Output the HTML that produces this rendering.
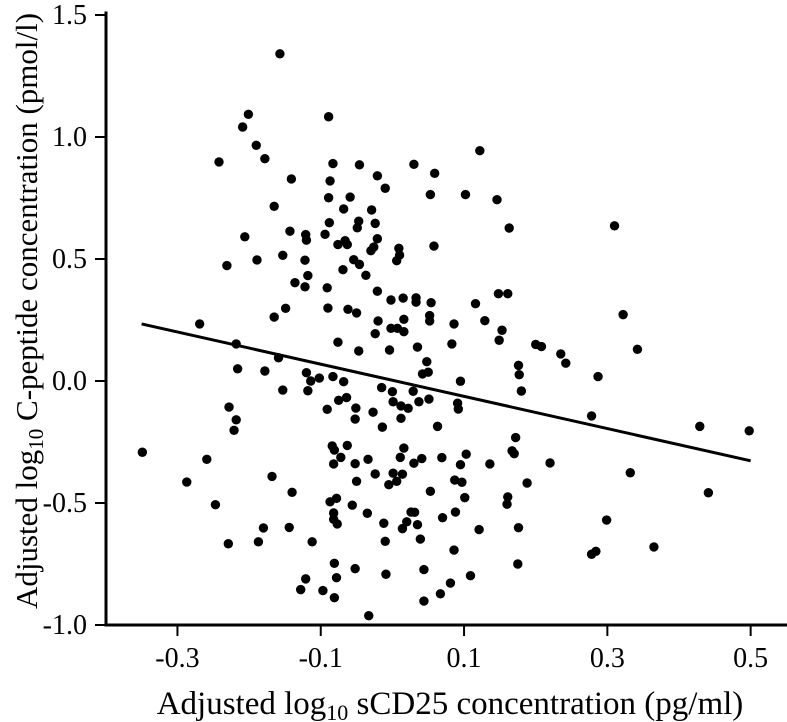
<!DOCTYPE html>
<html>
<head>
<meta charset="utf-8">
<style>
  html,body{margin:0;padding:0;background:#fff;}
  svg{display:block;}
  text{font-family:"Liberation Serif","DejaVu Serif",serif;fill:#000;}
</style>
</head>
<body>
<svg id="chart" width="787" height="722" viewBox="0 0 787 722" xmlns="http://www.w3.org/2000/svg">
  <g id="axes"></g>
  <g id="points"></g>
  <g id="fit"></g>
  <text transform="translate(37,311) rotate(-90)" text-anchor="middle" font-size="31">Adjusted log<tspan font-size="21" dy="6">10</tspan><tspan dy="-6"> C-peptide concentration (pmol/l)</tspan></text>
  <text x="450" y="714" text-anchor="middle" font-size="33">Adjusted log<tspan font-size="22" dy="6">10</tspan><tspan dy="-6"> sCD25 concentration (pg/ml)</tspan></text>
</svg>
<script>
const xTicks = [-0.3, -0.1, 0.1, 0.3, 0.5];
const xTickLabels = ["-0.3", "-0.1", "0.1", "0.3", "0.5"];
const yTicks = [1.5, 1.0, 0.5, 0.0, -0.5, -1.0];
const yTickLabels = ["1.5", "1.0", "0.5", "0.0", "-0.5", "-1.0"];
const fitX = [-0.35, 0.50];
const fitY = [0.234, -0.327];
const xs = [-0.157,-0.201,-0.209,-0.089,-0.190,-0.178,-0.242,-0.083,-0.046,0.030,0.059,-0.021,-0.141,-0.087,-0.010,0.053,-0.089,-0.059,-0.165,-0.068,-0.029,-0.088,-0.047,-0.049,-0.024,-0.143,-0.121,-0.120,-0.094,-0.206,-0.021,-0.076,-0.066,-0.063,-0.026,-0.030,0.009,0.010,0.006,0.058,-0.153,-0.189,-0.231,-0.122,-0.054,-0.046,-0.069,-0.037,-0.118,-0.136,-0.122,-0.091,-0.021,-0.002,0.015,0.033,0.033,0.054,-0.149,-0.165,-0.090,-0.062,-0.050,-0.020,0.016,0.052,0.052,-0.269,-0.002,0.007,0.016,-0.024,-0.076,-0.047,-0.004,0.035,-0.218,-0.159,0.048,0.042,0.050,-0.216,-0.178,-0.120,-0.114,-0.102,-0.083,-0.068,-0.015,0.000,0.029,-0.153,-0.118,-0.075,-0.064,0.001,0.012,0.022,0.037,0.051,-0.091,-0.051,-0.027,-0.052,0.012,-0.014,0.063,-0.228,-0.218,-0.221,-0.349,-0.259,-0.287,-0.168,-0.140,-0.247,-0.180,-0.144,-0.229,-0.187,-0.112,-0.084,-0.081,-0.063,-0.072,-0.082,-0.052,-0.034,-0.024,-0.050,0.016,0.011,0.030,0.041,0.069,0.001,0.014,0.006,-0.005,0.053,-0.087,-0.078,-0.056,-0.082,-0.082,-0.077,-0.035,-0.012,0.026,0.031,0.020,0.014,0.035,0.070,-0.010,0.039,-0.081,-0.078,-0.052,-0.009,0.044,-0.121,-0.128,-0.097,-0.081,0.044,0.067,-0.033,0.122,0.102,0.146,0.163,0.310,0.148,0.161,0.116,0.086,0.129,0.322,0.153,0.149,0.083,0.200,0.208,0.235,0.242,0.342,0.176,0.177,0.287,0.180,0.095,0.091,0.092,0.278,0.429,0.498,0.172,0.167,0.170,0.103,0.095,0.136,0.220,0.332,0.087,0.097,0.188,0.101,0.161,0.160,0.441,0.088,0.121,0.176,0.299,0.086,0.278,0.284,0.365,0.175,0.109,0.081];
const ys = [1.341,1.093,1.041,1.083,0.966,0.911,0.898,0.891,0.886,0.888,0.851,0.841,0.828,0.820,0.790,0.764,0.751,0.754,0.716,0.705,0.701,0.649,0.655,0.628,0.646,0.614,0.600,0.577,0.601,0.591,0.583,0.559,0.575,0.559,0.549,0.534,0.544,0.516,0.493,0.553,0.515,0.496,0.473,0.495,0.497,0.478,0.456,0.433,0.432,0.403,0.386,0.382,0.368,0.332,0.340,0.341,0.323,0.321,0.298,0.262,0.299,0.294,0.279,0.246,0.253,0.268,0.246,0.234,0.216,0.216,0.202,0.194,0.159,0.123,0.127,0.139,0.152,0.095,0.079,0.029,0.036,0.050,0.041,0.034,0.000,0.012,0.018,-0.003,-0.027,-0.044,-0.042,-0.037,-0.040,-0.079,-0.068,-0.085,-0.102,-0.112,-0.085,-0.074,-0.116,-0.111,-0.128,-0.156,-0.153,-0.189,-0.186,-0.107,-0.159,-0.202,-0.292,-0.321,-0.414,-0.391,-0.456,-0.507,-0.602,-0.600,-0.667,-0.659,-0.659,-0.266,-0.283,-0.264,-0.313,-0.340,-0.339,-0.321,-0.381,-0.411,-0.275,-0.313,-0.337,-0.318,-0.314,-0.378,-0.382,-0.411,-0.425,-0.452,-0.495,-0.481,-0.509,-0.541,-0.567,-0.586,-0.542,-0.583,-0.537,-0.538,-0.577,-0.605,-0.589,-0.560,-0.657,-0.648,-0.747,-0.806,-0.769,-0.792,-0.773,-0.811,-0.855,-0.859,-0.888,-0.902,-0.872,-0.962,0.944,0.764,0.743,0.627,0.636,0.358,0.358,0.317,0.234,0.247,0.272,0.208,0.167,0.152,0.150,0.141,0.111,0.073,0.130,0.064,0.026,0.018,-0.041,-0.001,-0.091,-0.115,-0.143,-0.186,-0.204,-0.232,-0.286,-0.298,-0.300,-0.343,-0.340,-0.336,-0.376,-0.406,-0.415,-0.418,-0.478,-0.475,-0.505,-0.458,-0.537,-0.609,-0.601,-0.570,-0.693,-0.710,-0.698,-0.680,-0.750,-0.798,-0.828];

const NS = "http://www.w3.org/2000/svg";
function xScale(v){ return 392.4 + v * 716.5; }
function yScale(v){ return 381 - v * 244; }
function mk(tag, attrs, parent){
  const e = document.createElementNS(NS, tag);
  for (const k in attrs) e.setAttribute(k, attrs[k]);
  parent.appendChild(e);
  return e;
}
const axes = document.getElementById('axes');
const yAxis = mk('line', {x1:106, y1:11.5, x2:106, y2:626.5, stroke:'#000', 'stroke-width':3}, axes);


const xAxis = mk('line', {x1:104.5, y1:625, x2:787, y2:625, stroke:'#000', 'stroke-width':3}, axes);



yTicks.forEach((v, i) => {
  const y = yScale(v);
  const t = mk('line', {x1:95, y1:y, x2:106, y2:y, stroke:'#000', 'stroke-width':2}, axes);
  
  
  const lb = mk('text', {x:87, y:y + 9, 'text-anchor':'end', 'font-size':28}, axes);
  lb.textContent = yTickLabels[i];
  
  
});
xTicks.forEach((v, i) => {
  const x = xScale(v);
  const t = mk('line', {x1:x, y1:625, x2:x, y2:636, stroke:'#000', 'stroke-width':2}, axes);
  
  
  const lb = mk('text', {x:x, y:667, 'text-anchor':'middle', 'font-size':28}, axes);
  lb.textContent = xTickLabels[i];
  
  
});

const pts = document.getElementById('points');
for (let i = 0; i < xs.length; i++) {
  const c = mk('circle', {cx:xScale(xs[i]), cy:yScale(ys[i]), r:4.7, fill:'#000'}, pts);
  
  
}
const fit = document.getElementById('fit');
const fl = mk('line', {x1:xScale(fitX[0]), y1:yScale(fitY[0]), x2:xScale(fitX[1]), y2:yScale(fitY[1]), stroke:'#000', 'stroke-width':3}, fit);


</script>
</body>
</html>
